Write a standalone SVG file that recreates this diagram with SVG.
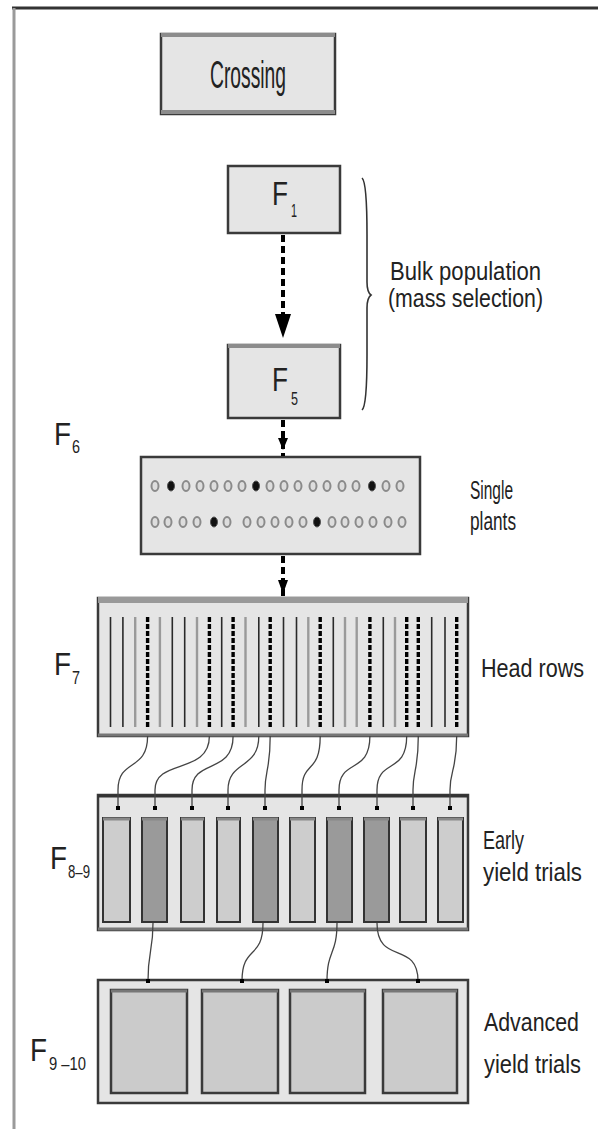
<svg xmlns="http://www.w3.org/2000/svg" width="598" height="1129" viewBox="0 0 598 1129">
<defs>
<style>
.t{font-family:"Liberation Sans Narrow","Liberation Sans",Arial,sans-serif;fill:#222;}
.lb{font-size:26px;}
.box{fill:#e5e5e5;stroke:#3a3a3a;stroke-width:2.5;}
.gtop{stroke:#8c8c8c;stroke-width:4;}
.hd{stroke:#2a2a2a;stroke-width:1.6;}
.hg{stroke:#9a9a9a;stroke-width:2.4;}
.hs{stroke:#000;stroke-width:3.4;stroke-dasharray:5 2;}
.c{fill:#ddd;stroke:#8a8a8a;stroke-width:2;}
.cd{fill:#111;stroke:#555;stroke-width:1;}
.conn{fill:none;stroke:#444;stroke-width:1.3;}
.dash{stroke:#000;stroke-width:4;stroke-dasharray:7 4;fill:none;}
.eyl{fill:#cdcdcd;stroke:#333;stroke-width:2;}
.eyd{fill:#9a9a9a;stroke:#333;stroke-width:2;}
.ay{fill:#cbcbcb;stroke:#3a3a3a;stroke-width:2.5;}
</style>
<marker id="dot" viewBox="0 0 4 4" refX="2" refY="2" markerWidth="4" markerHeight="4" markerUnits="userSpaceOnUse">
<rect x="0" y="0" width="4" height="4" fill="#000"/>
</marker>
</defs>
<rect width="598" height="1129" fill="#fff"/>
<line x1="12" y1="8" x2="598" y2="8" stroke="#333" stroke-width="3"/>
<line x1="14" y1="8" x2="14" y2="1129" stroke="#9a9a9a" stroke-width="3"/>

<g id="crossing">
<rect class="box" x="161" y="34" width="174" height="80"/>
<line class="gtop" x1="161" y1="35" x2="335" y2="35"/>
<line class="gtop" x1="161" y1="112" x2="335" y2="112"/>
<text class="t" x="248" y="88" font-size="38" text-anchor="middle" textLength="76" lengthAdjust="spacingAndGlyphs">Crossing</text>
</g>

<g id="f1">
<rect class="box" x="228" y="166" width="112" height="67"/>
<text class="t" x="272" y="205" font-size="34" textLength="16" lengthAdjust="spacingAndGlyphs">F</text>
<text class="t" x="291" y="217" font-size="19" textLength="6" lengthAdjust="spacingAndGlyphs">1</text>
</g>

<g id="f5">
<rect class="box" x="228" y="345" width="112" height="73"/>
<line class="gtop" x1="228" y1="346" x2="340" y2="346"/>
<text class="t" x="272" y="391" font-size="34" textLength="16" lengthAdjust="spacingAndGlyphs">F</text>
<text class="t" x="291" y="405" font-size="19" textLength="7" lengthAdjust="spacingAndGlyphs">5</text>
</g>

<g id="bulk-label">
<path d="M362 178 Q367 182 367 235 L367 282 Q367 292 371 295 Q367 298 367 308 L367 355 Q367 406 362 410" fill="none" stroke="#333" stroke-width="1.6"/>
<text class="t" x="390" y="280" font-size="25" textLength="151" lengthAdjust="spacingAndGlyphs">Bulk population</text>
<text class="t" x="388" y="307" font-size="25" textLength="155" lengthAdjust="spacingAndGlyphs">(mass selection)</text>
</g>

<g id="single-plants">
<rect class="box" x="141" y="457" width="279" height="97" stroke-width="3"/>
<g>
<ellipse class="c" cx="155" cy="486" rx="3.5" ry="5"/>
<ellipse class="cd" cx="171" cy="486" rx="3.5" ry="5"/>
<ellipse class="c" cx="186" cy="486" rx="3.5" ry="5"/>
<ellipse class="c" cx="200" cy="486" rx="3.5" ry="5"/>
<ellipse class="c" cx="214" cy="486" rx="3.5" ry="5"/>
<ellipse class="c" cx="228" cy="486" rx="3.5" ry="5"/>
<ellipse class="c" cx="242" cy="486" rx="3.5" ry="5"/>
<ellipse class="cd" cx="256" cy="486" rx="3.5" ry="5"/>
<ellipse class="c" cx="270" cy="486" rx="3.5" ry="5"/>
<ellipse class="c" cx="284" cy="486" rx="3.5" ry="5"/>
<ellipse class="c" cx="298" cy="486" rx="3.5" ry="5"/>
<ellipse class="c" cx="313" cy="486" rx="3.5" ry="5"/>
<ellipse class="c" cx="327" cy="486" rx="3.5" ry="5"/>
<ellipse class="c" cx="342" cy="486" rx="3.5" ry="5"/>
<ellipse class="c" cx="356" cy="486" rx="3.5" ry="5"/>
<ellipse class="cd" cx="372" cy="486" rx="3.5" ry="5"/>
<ellipse class="c" cx="386" cy="486" rx="3.5" ry="5"/>
<ellipse class="c" cx="400" cy="486" rx="3.5" ry="5"/>
<ellipse class="c" cx="155" cy="522" rx="3.5" ry="5"/>
<ellipse class="c" cx="168" cy="522" rx="3.5" ry="5"/>
<ellipse class="c" cx="183" cy="522" rx="3.5" ry="5"/>
<ellipse class="c" cx="197" cy="522" rx="3.5" ry="5"/>
<ellipse class="cd" cx="214" cy="522" rx="3.5" ry="5"/>
<ellipse class="c" cx="227" cy="522" rx="3.5" ry="5"/>
<ellipse class="c" cx="247" cy="522" rx="3.5" ry="5"/>
<ellipse class="c" cx="261" cy="522" rx="3.5" ry="5"/>
<ellipse class="c" cx="275" cy="522" rx="3.5" ry="5"/>
<ellipse class="c" cx="289" cy="522" rx="3.5" ry="5"/>
<ellipse class="c" cx="303" cy="522" rx="3.5" ry="5"/>
<ellipse class="cd" cx="317" cy="522" rx="3.5" ry="5"/>
<ellipse class="c" cx="332" cy="522" rx="3.5" ry="5"/>
<ellipse class="c" cx="345" cy="522" rx="3.5" ry="5"/>
<ellipse class="c" cx="359" cy="522" rx="3.5" ry="5"/>
<ellipse class="c" cx="373" cy="522" rx="3.5" ry="5"/>
<ellipse class="c" cx="388" cy="522" rx="3.5" ry="5"/>
<ellipse class="c" cx="402" cy="522" rx="3.5" ry="5"/>
</g>
</g>
<g id="f6-label">
<text class="t" x="54" y="445" font-size="32" textLength="17" lengthAdjust="spacingAndGlyphs">F</text>
<text class="t" x="72" y="453" font-size="18" textLength="8" lengthAdjust="spacingAndGlyphs">6</text>
</g>
<g id="single-label">
<text class="t lb" x="470" y="499" textLength="43" lengthAdjust="spacingAndGlyphs">Single</text>
<text class="t lb" x="470" y="530" textLength="46" lengthAdjust="spacingAndGlyphs">plants</text>
</g>

<g id="head-rows">
<rect class="box" x="98" y="598" width="370" height="138" stroke="#666"/>
<line x1="98" y1="600" x2="468" y2="600" stroke="#999" stroke-width="6"/>
<line x1="98" y1="735" x2="468" y2="735" stroke="#777" stroke-width="3"/>
<g>
<line class="hd" x1="110.5" y1="617" x2="110.5" y2="727"/>
<line class="hd" x1="122.9" y1="617" x2="122.9" y2="727"/>
<line class="hg" x1="135.2" y1="617" x2="135.2" y2="727"/>
<line class="hs" x1="147.6" y1="617" x2="147.6" y2="727"/>
<line class="hg" x1="159.9" y1="617" x2="159.9" y2="727"/>
<line class="hd" x1="172.3" y1="617" x2="172.3" y2="727"/>
<line class="hd" x1="184.7" y1="617" x2="184.7" y2="727"/>
<line class="hg" x1="197.0" y1="617" x2="197.0" y2="727"/>
<line class="hs" x1="209.4" y1="617" x2="209.4" y2="727"/>
<line class="hd" x1="221.7" y1="617" x2="221.7" y2="727"/>
<line class="hs" x1="233.1" y1="617" x2="233.1" y2="727"/>
<line class="hg" x1="245.5" y1="617" x2="245.5" y2="727"/>
<line class="hd" x1="258.8" y1="617" x2="258.8" y2="727"/>
<line class="hs" x1="270.2" y1="617" x2="270.2" y2="727"/>
<line class="hd" x1="283.5" y1="617" x2="283.5" y2="727"/>
<line class="hd" x1="296.5" y1="617" x2="296.5" y2="727"/>
<line class="hg" x1="308.3" y1="617" x2="308.3" y2="727"/>
<line class="hs" x1="320.2" y1="617" x2="320.2" y2="727"/>
<line class="hd" x1="333.3" y1="617" x2="333.3" y2="727"/>
<line class="hg" x1="345.0" y1="617" x2="345.0" y2="727"/>
<line class="hg" x1="356.7" y1="617" x2="356.7" y2="727"/>
<line class="hs" x1="369.9" y1="617" x2="369.9" y2="727"/>
<line class="hd" x1="383.3" y1="617" x2="383.3" y2="727"/>
<line class="hg" x1="395.0" y1="617" x2="395.0" y2="727"/>
<line class="hs" x1="406.7" y1="617" x2="406.7" y2="727"/>
<line class="hs" x1="418.3" y1="617" x2="418.3" y2="727"/>
<line class="hd" x1="431.7" y1="617" x2="431.7" y2="727"/>
<line class="hd" x1="445.0" y1="617" x2="445.0" y2="727"/>
<line class="hs" x1="456.7" y1="617" x2="456.7" y2="727"/>
</g>
</g>
<g id="f7-label">
<text class="t" x="54" y="675" font-size="32" textLength="17" lengthAdjust="spacingAndGlyphs">F</text>
<text class="t" x="72" y="684" font-size="18" textLength="8" lengthAdjust="spacingAndGlyphs">7</text>
</g>
<g id="head-label">
<text class="t lb" x="481" y="677" textLength="103" lengthAdjust="spacingAndGlyphs">Head rows</text>
</g>

<g id="early-yield">
<rect class="box" x="98" y="795" width="370" height="135" stroke="#555"/>
<line x1="98" y1="796" x2="468" y2="796" stroke="#333" stroke-width="3"/>
<line x1="98" y1="929" x2="468" y2="929" stroke="#777" stroke-width="3"/>
<rect class="eyl" x="103" y="818" width="27" height="104"/>
<rect class="eyd" x="142" y="818" width="25" height="104"/>
<rect class="eyl" x="181" y="818" width="23" height="104"/>
<rect class="eyl" x="217" y="818" width="23" height="104"/>
<rect class="eyd" x="253" y="818" width="25" height="104"/>
<rect class="eyl" x="290" y="818" width="25" height="104"/>
<rect class="eyd" x="327" y="818" width="25" height="104"/>
<rect class="eyd" x="364" y="818" width="25" height="104"/>
<rect class="eyl" x="400" y="818" width="26" height="104"/>
<rect class="eyl" x="438" y="818" width="25" height="104"/>
<g stroke="#888" stroke-width="3">
<line x1="103" y1="819" x2="130" y2="819"/><line x1="142" y1="819" x2="167" y2="819"/>
<line x1="181" y1="819" x2="204" y2="819"/><line x1="217" y1="819" x2="240" y2="819"/>
<line x1="253" y1="819" x2="278" y2="819"/><line x1="290" y1="819" x2="315" y2="819"/>
<line x1="327" y1="819" x2="352" y2="819"/><line x1="364" y1="819" x2="389" y2="819"/>
<line x1="400" y1="819" x2="426" y2="819"/><line x1="438" y1="819" x2="463" y2="819"/>
</g>
</g>
<g id="f89-label">
<text class="t" x="50" y="869" font-size="32" textLength="17" lengthAdjust="spacingAndGlyphs">F</text>
<text class="t" x="68" y="878" font-size="18" textLength="22" lengthAdjust="spacingAndGlyphs">8–9</text>
</g>
<g id="early-label">
<text class="t lb" x="483" y="849" textLength="41" lengthAdjust="spacingAndGlyphs">Early</text>
<text class="t lb" x="483" y="881" textLength="99" lengthAdjust="spacingAndGlyphs">yield trials</text>
</g>

<g id="advanced-yield">
<rect class="box" x="98" y="980" width="370" height="123" stroke="#444"/>
<rect class="ay" x="111" y="990" width="76" height="103"/>
<rect class="ay" x="202" y="990" width="76" height="103"/>
<rect class="ay" x="290" y="990" width="75" height="103"/>
<rect class="ay" x="383" y="990" width="74" height="103"/>
<g stroke="#777" stroke-width="3">
<line x1="111" y1="991" x2="187" y2="991"/><line x1="202" y1="991" x2="278" y2="991"/>
<line x1="290" y1="991" x2="365" y2="991"/><line x1="383" y1="991" x2="457" y2="991"/>
</g>
</g>
<g id="f910-label">
<text class="t" x="30" y="1061" font-size="32" textLength="17" lengthAdjust="spacingAndGlyphs">F</text>
<text class="t" x="49" y="1070" font-size="18" textLength="37" lengthAdjust="spacingAndGlyphs">9 –10</text>
</g>
<g id="advanced-label">
<text class="t lb" x="484" y="1031" textLength="95" lengthAdjust="spacingAndGlyphs">Advanced</text>
<text class="t lb" x="484" y="1073" textLength="97" lengthAdjust="spacingAndGlyphs">yield trials</text>
</g>

<g id="connectors">
<line class="dash" x1="283" y1="235" x2="283" y2="316"/>
<path d="M275 314 L291 314 L283 338 Z" fill="#000"/>
<line class="dash" x1="283" y1="420" x2="283" y2="456" stroke-dasharray="5 3"/>
<path d="M278 438 L288 438 L283 450 Z" fill="#000"/>
<line class="dash" x1="283" y1="556" x2="283" y2="597" stroke-dasharray="7 3"/>
<path d="M278 580 L288 580 L283 594 Z" fill="#000"/>
<g marker-end="url(#dot)">
<path class="conn" d="M147.6 736 C147.6 772 118 758 118 790 L118 808"/>
<path class="conn" d="M209.4 736 C209.4 775 155 758 155 790 L155 808"/>
<path class="conn" d="M233.1 736 C233.1 775 192 758 192 790 L192 808"/>
<path class="conn" d="M258.8 736 C258.8 770 228 760 228 790 L228 808"/>
<path class="conn" d="M270.2 736 C270.2 770 265 770 265 790 L265 808"/>
<path class="conn" d="M320.2 736 C320.2 775 302 760 302 790 L302 808"/>
<path class="conn" d="M369.9 736 C369.9 775 339 758 339 790 L339 808"/>
<path class="conn" d="M406.7 736 C406.7 775 377 758 377 790 L377 808"/>
<path class="conn" d="M418.3 736 C418.3 770 413 770 413 790 L413 808"/>
<path class="conn" d="M456.7 736 C456.7 770 450 770 450 790 L450 808"/>
<path class="conn" d="M153 923 C153 952 148 950 148 981"/>
<path class="conn" d="M263 923 C263 960 242 945 242 981"/>
<path class="conn" d="M337 923 C337 955 327 950 327 981"/>
<path class="conn" d="M377 923 C377 966 418 940 418 981"/>
</g>
</g>
</svg>
